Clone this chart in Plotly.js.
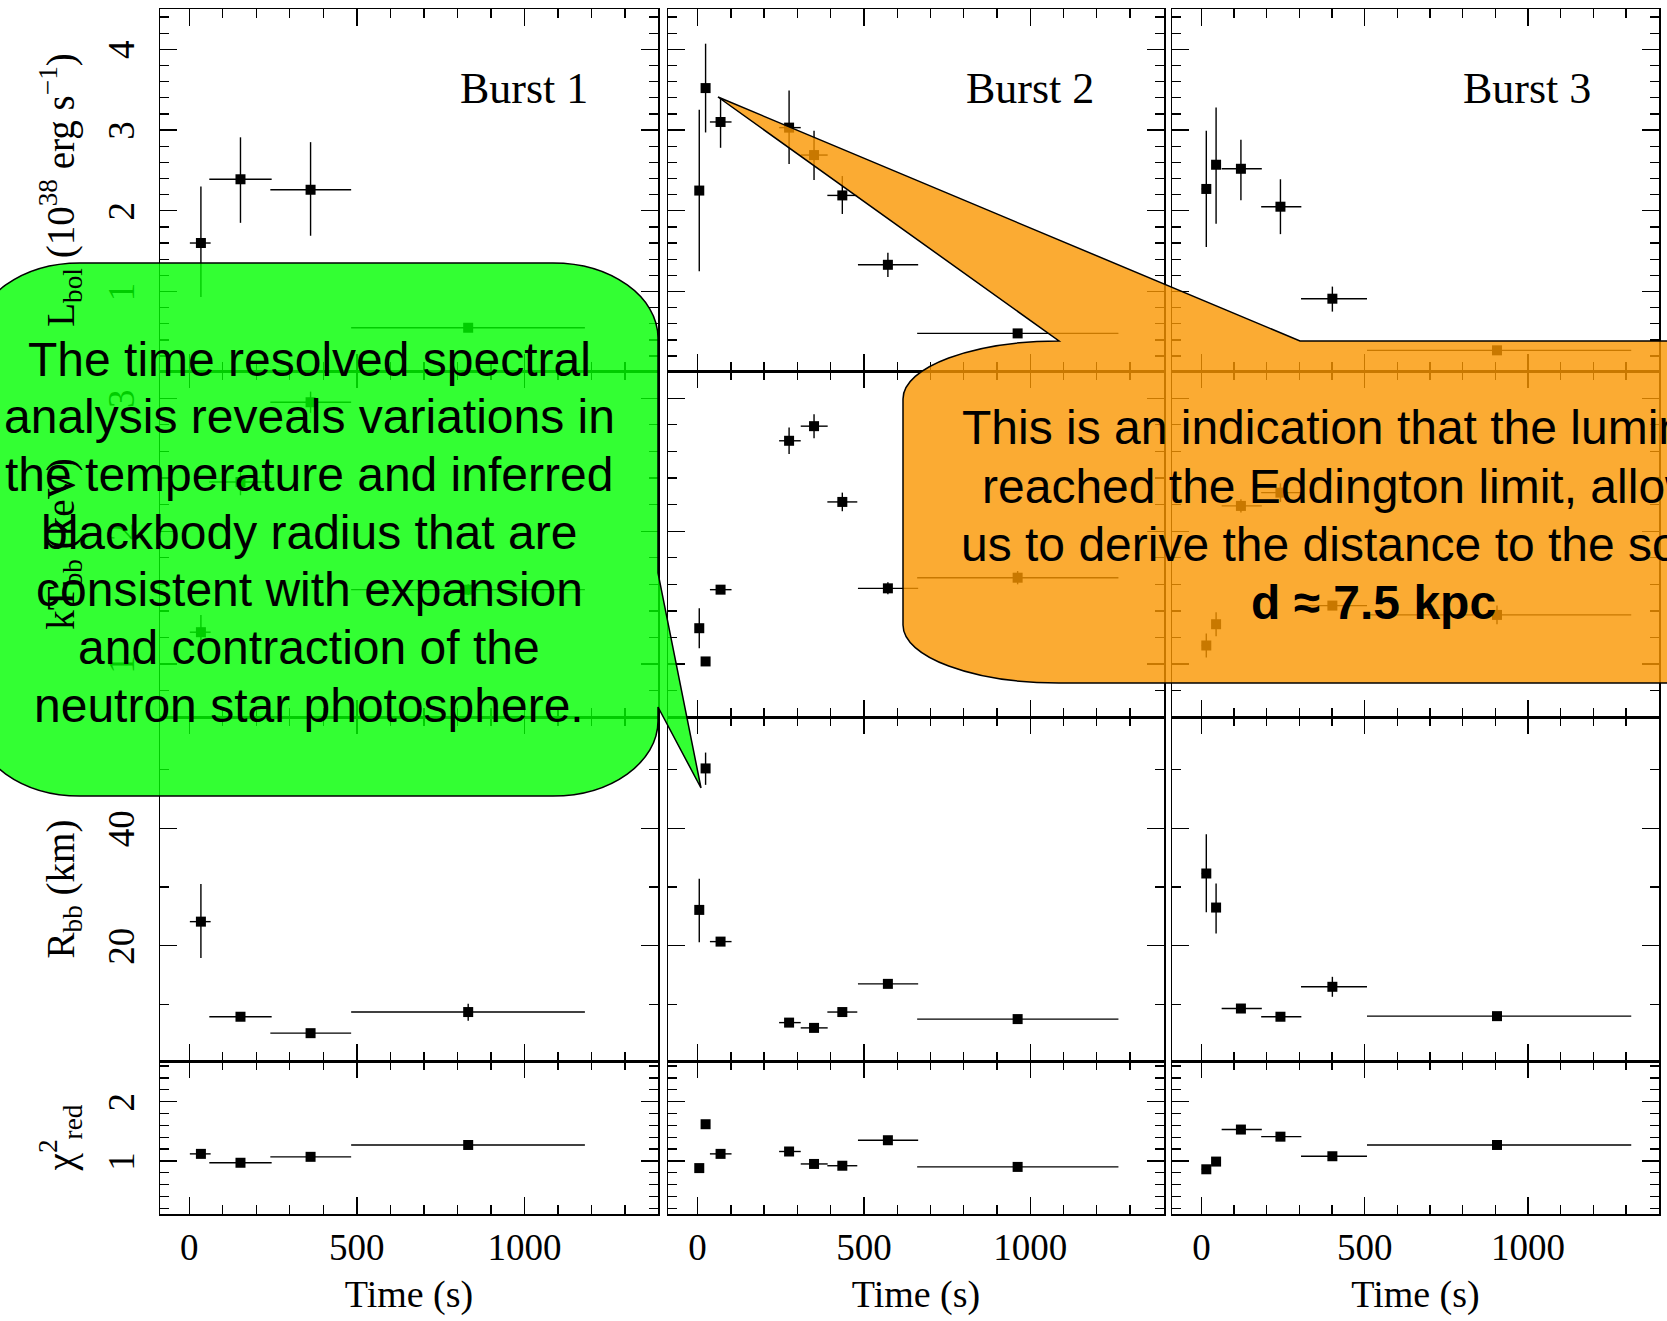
<!DOCTYPE html>
<html><head><meta charset="utf-8">
<script src="https://cdn.plot.ly/plotly-3.0.1.min.js"></script>
<style>html,body{margin:0;padding:0;background:#fff}</style>
</head><body><div id="chart" style="width:1667px;height:1321px"></div>
<script>
// ---------- data ----------
const b1_time = [35, 153, 362, 832];
const b1_time_minus = [33, 93, 120, 349];
const b1_time_plus = [29, 93, 121, 348];
const b1_lbol = [1.60, 2.39, 2.26, 0.55];
const b1_lbol_plus = [0.70, 0.52, 0.59, 0.05];
const b1_lbol_minus = [0.67, 0.54, 0.57, 0.05];
const b1_kt = [1.24, 2.37, 2.97, 1.56];
const b1_kt_err = [0.13, 0.10, 0.08, 0.04];
const b1_rbb = [24.1, 7.9, 5.1, 8.7];
const b1_rbb_plus = [6.4, 0.6, 0.5, 1.4];
const b1_rbb_minus = [6.2, 0.6, 0.5, 1.5];
const b1_chi = [1.12, 0.97, 1.07, 1.27];

const b2_time = [5, 24, 69, 275, 350, 435, 572, 962];
const b2_time_minus = [3, 4, 32, 30, 40, 45, 90, 302];
const b2_time_plus = [3, 4, 33, 35, 41, 45, 91, 303];
const b2_lbol = [2.25, 3.52, 3.10, 3.03, 2.69, 2.19, 1.33, 0.48];
const b2_lbol_plus = [1.00, 0.55, 0.29, 0.46, 0.30, 0.24, 0.15, 0.05];
const b2_lbol_minus = [1.00, 0.55, 0.32, 0.45, 0.31, 0.23, 0.15, 0.05];
const b2_kt = [1.27, 1.02, 1.56, 2.68, 2.79, 2.22, 1.57, 1.65];
const b2_kt_err = [0.15, 0.03, 0.03, 0.10, 0.09, 0.07, 0.045, 0.05];
const b2_rbb = [26.1, 50.2, 20.7, 6.9, 6.0, 8.7, 13.5, 7.5];
const b2_rbb_plus = [5.3, 2.7, 0.4, 0.4, 0.4, 0.4, 0.4, 0.4];
const b2_rbb_minus = [5.5, 2.8, 0.4, 0.4, 0.4, 0.4, 0.4, 0.4];
const b2_chi = [0.88, 1.62, 1.12, 1.16, 0.95, 0.92, 1.35, 0.90];

const b3_time = [15, 45, 121, 242, 401, 905];
const b3_time_minus = [14, 13, 59, 59, 96, 398];
const b3_time_plus = [14, 15, 64, 64, 106, 411];
const b3_lbol = [2.27, 2.57, 2.52, 2.05, 0.91, 0.27];
const b3_lbol_plus = [0.72, 0.71, 0.36, 0.34, 0.15, 0.03];
const b3_lbol_minus = [0.72, 0.73, 0.39, 0.34, 0.16, 0.03];
const b3_kt = [1.14, 1.30, 2.19, 2.29, 1.44, 1.37];
const b3_kt_err = [0.09, 0.09, 0.05, 0.07, 0.03, 0.07];
const b3_rbb = [32.3, 26.5, 9.3, 7.9, 13.0, 8.0];
const b3_rbb_plus = [6.7, 4.1, 0.4, 0.4, 1.7, 0.6];
const b3_rbb_minus = [6.6, 4.4, 0.4, 0.4, 1.7, 0.6];
const b3_chi = [0.86, 0.99, 1.53, 1.41, 1.08, 1.27];

const burstNames = ['Burst 1', 'Burst 2', 'Burst 3'];
const xTickVals = [0, 500, 1000];
const xTitle = 'Time (s)';
const yTitles = ['L<sub>bol</sub> (10<sup>38</sup> erg s<sup>−1</sup>)', 'kT<sub>bb</sub> (keV)', 'R<sub>bb</sub> (km)', 'χ<sup>2</sup><sub>red</sub>'];
const greenLines = ['The time resolved spectral', 'analysis reveals variations in', 'the temperature and inferred',
  'blackbody radius that are', 'consistent with expansion', 'and contraction of the', 'neutron star photosphere.'];
const orangeLines = ['This is an indication that the luminosity', 'reached the Eddington limit, allowing',
  'us to derive the distance to the source:', '<b>d ≈ 7.5 kpc</b>'];

// ---------- layout geometry (pixels) ----------
const W = 1667, H = 1321;
const colPx = [[160, 658], [668, 1164], [1172, 1659]];
const rowPx = [[9, 371], [371, 717], [717, 1061], [1061, 1214]];
const xRanges = [[-87, 1398], [-89, 1402], [-90, 1401]];
const yRanges = [[0.014, 4.5], [0.602, 3.205], [0.36, 58.96], [0.106, 2.686]];
const yMajor = [1, 1, 20, 1];
const yMinor = [0.2, 0.2, 10, 0.2];

const bursts = [
  {t: b1_time, tm: b1_time_minus, tp: b1_time_plus,
   rows: [[b1_lbol, b1_lbol_plus, b1_lbol_minus], [b1_kt, b1_kt_err, b1_kt_err], [b1_rbb, b1_rbb_plus, b1_rbb_minus], [b1_chi, null, null]]},
  {t: b2_time, tm: b2_time_minus, tp: b2_time_plus,
   rows: [[b2_lbol, b2_lbol_plus, b2_lbol_minus], [b2_kt, b2_kt_err, b2_kt_err], [b2_rbb, b2_rbb_plus, b2_rbb_minus], [b2_chi, null, null]]},
  {t: b3_time, tm: b3_time_minus, tp: b3_time_plus,
   rows: [[b3_lbol, b3_lbol_plus, b3_lbol_minus], [b3_kt, b3_kt_err, b3_kt_err], [b3_rbb, b3_rbb_plus, b3_rbb_minus], [b3_chi, null, null]]}
];

const serif = 'Liberation Serif, Times New Roman, serif';
const sans = 'Liberation Sans, Arial, sans-serif';

const layout = {
  width: W, height: H,
  margin: {l: 0, r: 0, t: 0, b: 0, pad: 0},
  paper_bgcolor: '#ffffff', plot_bgcolor: '#ffffff',
  showlegend: false,
  shapes: [], annotations: []
};
const traces = [];

for (let r = 0; r < 4; r++) {
  for (let c = 0; c < 3; c++) {
    const i = r * 3 + c + 1;
    const xk = 'xaxis' + (i === 1 ? '' : i), yk = 'yaxis' + (i === 1 ? '' : i);
    const xa = 'x' + (i === 1 ? '' : i), ya = 'y' + (i === 1 ? '' : i);
    layout[xk] = {
      domain: [colPx[c][0] / W, colPx[c][1] / W], anchor: ya,
      range: xRanges[c], showgrid: false, zeroline: false,
      showline: true, linecolor: '#000', linewidth: 1.5, mirror: 'allticks',
      ticks: 'inside', ticklen: 17, tickwidth: 1.3, tickcolor: '#000',
      tickmode: 'array', tickvals: xTickVals,
      minor: {dtick: 100, tick0: 0, ticks: 'inside', ticklen: 9, tickwidth: 1.3, tickcolor: '#000'},
      showticklabels: r === 3,
      tickfont: {family: serif, size: 37, color: '#000'},
      ticklabelstandoff: 0
    };
    if (r === 3) layout[xk].title = {text: xTitle, font: {family: serif, size: 38, color: '#000'}, standoff: 13};
    layout[yk] = {
      domain: [1 - rowPx[r][1] / H, 1 - rowPx[r][0] / H], anchor: xa,
      range: yRanges[r], showgrid: false, zeroline: false,
      showline: true, linecolor: '#000', linewidth: 1.5, mirror: 'allticks',
      ticks: 'inside', ticklen: 17, tickwidth: 1.3, tickcolor: '#000',
      dtick: yMajor[r], tick0: 0,
      minor: {dtick: yMinor[r], tick0: 0, ticks: 'inside', ticklen: 9, tickwidth: 1.3, tickcolor: '#000'},
      showticklabels: c === 0, tickangle: -90,
      tickfont: {family: serif, size: 37, color: '#000'},
      ticklabelstandoff: 10, ticklabelshift: 6
    };
    if (c === 0) layout[yk].title = {text: yTitles[r], font: {family: serif, size: 39, color: '#000'}, standoff: 14};

    const b = bursts[c], row = b.rows[r];
    const tr = {
      type: 'scatter', mode: 'markers', xaxis: xa, yaxis: ya,
      x: b.t, y: row[0],
      marker: {symbol: 'square', size: 10, color: '#000'},
      error_x: {type: 'data', symmetric: false, array: b.tp, arrayminus: b.tm, thickness: 1.4, width: 0, color: '#000'},
      hoverinfo: 'x+y'
    };
    if (row[1]) tr.error_y = {type: 'data', symmetric: false, array: row[1], arrayminus: row[2], thickness: 1.4, width: 0, color: '#000'};
    traces.push(tr);
  }
}

// Burst labels
const burstLabelPx = [[524, 88], [1030, 88], [1527, 88]];
burstNames.forEach((n, k) => layout.annotations.push({
  xref: 'paper', yref: 'paper', x: burstLabelPx[k][0] / W, y: 1 - burstLabelPx[k][1] / H,
  xanchor: 'center', yanchor: 'middle', showarrow: false, text: n,
  font: {family: serif, size: 44, color: '#000'}
}));

// ---------- callouts ----------
const P = (x, y) => (x / W).toFixed(5) + ',' + (1 - y / H).toFixed(5);
const k = 0.5523;
// green
{
  const L = -25, T = 263, R = 658, B = 796, rx = 105, ry = 75;
  const path = 'M' + P(L + rx, T) + ' L' + P(R - rx, T) +
    ' C' + P(R - rx + k * rx, T) + ' ' + P(R, T + ry - k * ry) + ' ' + P(R, T + ry) +
    ' L' + P(R, 573) + ' L' + P(701, 788) + ' L' + P(R, 707) +
    ' L' + P(R, B - ry) +
    ' C' + P(R, B - ry + k * ry) + ' ' + P(R - rx + k * rx, B) + ' ' + P(R - rx, B) +
    ' L' + P(L + rx, B) +
    ' C' + P(L + rx - k * rx, B) + ' ' + P(L, B - ry + k * ry) + ' ' + P(L, B - ry) +
    ' L' + P(L, T + ry) +
    ' C' + P(L, T + ry - k * ry) + ' ' + P(L + rx - k * rx, T) + ' ' + P(L + rx, T) + ' Z';
  layout.shapes.push({type: 'path', xref: 'paper', yref: 'paper', path: path, layer: 'above',
    fillcolor: 'rgba(0,255,0,0.8)', line: {color: '#000', width: 1.5}});
}
// orange
{
  const L = 903, T = 341, R = 1845, B = 683, rx = 156, ry = 58;
  const path = 'M' + P(L, T + ry) +
    ' C' + P(L, T + ry - k * ry) + ' ' + P(L + rx - k * rx, T) + ' ' + P(L + rx, T) +
    ' L' + P(718, 97) + ' L' + P(1300, T) + ' L' + P(R - rx, T) +
    ' C' + P(R - rx + k * rx, T) + ' ' + P(R, T + ry - k * ry) + ' ' + P(R, T + ry) +
    ' L' + P(R, B - ry) +
    ' C' + P(R, B - ry + k * ry) + ' ' + P(R - rx + k * rx, B) + ' ' + P(R - rx, B) +
    ' L' + P(L + rx, B) +
    ' C' + P(L + rx - k * rx, B) + ' ' + P(L, B - ry + k * ry) + ' ' + P(L, B - ry) + ' Z';
  layout.shapes.push({type: 'path', xref: 'paper', yref: 'paper', path: path, layer: 'above',
    fillcolor: 'rgba(250,150,0,0.8)', line: {color: '#000', width: 1.5}});
}
greenLines.forEach((t, j) => layout.annotations.push({
  xref: 'paper', yref: 'paper', x: 309 / W, y: 1 - (359 + j * 57.7) / H,
  xanchor: 'center', yanchor: 'middle', showarrow: false, text: t,
  font: {family: sans, size: 48, color: '#000'}
}));
orangeLines.forEach((t, j) => layout.annotations.push({
  xref: 'paper', yref: 'paper', x: 1373 / W, y: 1 - (428 + j * 58.3) / H,
  xanchor: 'center', yanchor: 'middle', showarrow: false, text: t,
  font: {family: sans, size: 48, color: '#000'}
}));

Plotly.newPlot('chart', traces, layout, {staticPlot: true, displayModeBar: false});
</script>
</body></html>
